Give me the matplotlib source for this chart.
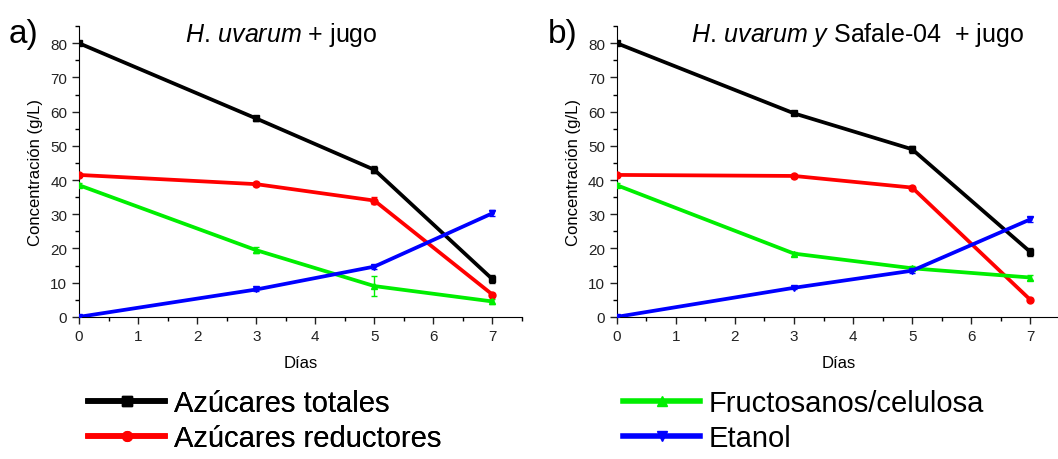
import matplotlib
matplotlib.use("Agg")
import matplotlib.pyplot as plt
from matplotlib.ticker import MultipleLocator

plt.rcParams['font.family'] = ['Liberation Sans', 'DejaVu Sans']
plt.rcParams['mathtext.fontset'] = 'custom'
plt.rcParams['mathtext.rm'] = 'Liberation Sans'
plt.rcParams['mathtext.it'] = 'Liberation Sans:italic'

dias = [0, 3, 5, 7]
series_names = ["Azúcares totales", "Azúcares reductores", "Fructosanos/celulosa", "Etanol"]
colors = ["#000000", "#ff0000", "#00ee00", "#0000ff"]
markers = ["s", "o", "^", "v"]

# panel a
a_totales = [80, 58, 43, 11]
a_reductores = [41.5, 38.8, 34, 6.5]
a_fructosanos = [38.5, 19.5, 9, 4.5]
a_etanol = [0, 8, 14.7, 30.3]
a_err_totales = [0.5, 0.6, 1.0, 1.2]
a_err_reductores = [0.4, 0.5, 1.0, 0.6]
a_err_fructosanos = [0.5, 0.8, 3.0, 0.8]
a_err_etanol = [0.2, 0.5, 0.6, 0.8]

# panel b
b_totales = [80, 59.5, 49, 19]
b_reductores = [41.5, 41.2, 37.8, 5]
b_fructosanos = [38.5, 18.5, 14.2, 11.5]
b_etanol = [0, 8.5, 13.5, 28.5]
b_err_totales = [0.5, 0.6, 1.0, 1.2]
b_err_reductores = [0.4, 0.5, 0.6, 0.5]
b_err_fructosanos = [0.5, 0.6, 0.8, 0.8]
b_err_etanol = [0.2, 0.5, 0.6, 0.8]

fig = plt.figure(figsize=(10.58, 4.6), dpi=100)
ax_a = fig.add_axes([0.0747, 0.309, 0.4187, 0.632])
ax_b = fig.add_axes([0.583, 0.309, 0.4187, 0.632])

panels = [
    (ax_a, [a_totales, a_reductores, a_fructosanos, a_etanol],
     [a_err_totales, a_err_reductores, a_err_fructosanos, a_err_etanol]),
    (ax_b, [b_totales, b_reductores, b_fructosanos, b_etanol],
     [b_err_totales, b_err_reductores, b_err_fructosanos, b_err_etanol]),
]

handles = []
for ax, data, errs in panels:
    handles = []
    for vals, err, c, m, name in zip(data, errs, colors, markers, series_names):
        ax.errorbar(dias, vals, yerr=err, color=c, ecolor=c, elinewidth=1,
                    capsize=2.5, lw=2.7, marker=m, ms=5, label=name, zorder=3)
        h, = ax.plot([], [], color=c, lw=4.0, marker=m, ms=7)
        handles.append(h)
    ax.set_xlim(0, 7.5)
    ax.set_ylim(0, 85)
    ax.xaxis.set_major_locator(MultipleLocator(1))
    ax.xaxis.set_minor_locator(MultipleLocator(0.5))
    ax.yaxis.set_major_locator(MultipleLocator(10))
    ax.yaxis.set_minor_locator(MultipleLocator(5))
    ax.set_yticks(range(0, 81, 10))
    ax.spines['top'].set_visible(False)
    ax.spines['right'].set_visible(False)
    ax.tick_params(which='major', direction='out', length=5, width=1, labelsize=11, colors='#222222')
    ax.tick_params(which='minor', direction='out', length=3, width=1)
    ax.set_xlabel("Días", fontsize=12, labelpad=9)
    ax.set_ylabel("Concentración (g/L)", fontsize=12, labelpad=5)

fig.text(0.008, 1 - 43 / 460, "a)", fontsize=24, va='baseline')
fig.text(0.518, 1 - 43 / 460, "b)", fontsize=24, va='baseline')
fig.text(281 / 1058, 1 - 42 / 460, r"$\it{H.\,uvarum}$ + jugo",
         ha='center', va='baseline', fontsize=18)
fig.text(858 / 1058, 1 - 42 / 460, r"$\it{H.\,uvarum\ y}$ Safale-04  + jugo",
         ha='center', va='baseline', fontsize=18)

leg_kw = dict(loc='upper left', frameon=False, fontsize=21,
              handlelength=2.65, handletextpad=0.3, labelspacing=0.25,
              borderaxespad=0, borderpad=0)
leg1 = fig.legend(handles[:2], series_names[:2],
                  bbox_to_anchor=(88 / 1058, 1 - 390 / 460), **leg_kw)
fig.add_artist(leg1)
fig.legend(handles[2:], series_names[2:],
           bbox_to_anchor=(623 / 1058, 1 - 390 / 460), **leg_kw)

fig.savefig("out.png", dpi=100)
